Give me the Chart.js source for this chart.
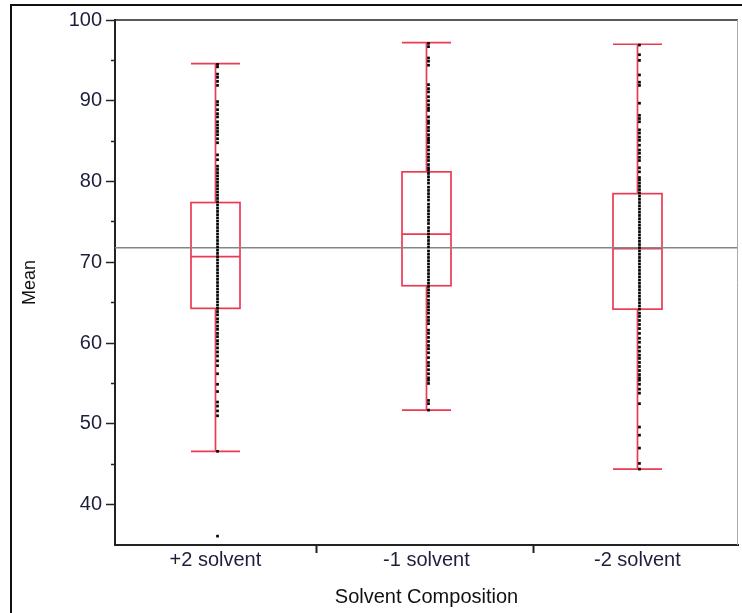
<!DOCTYPE html>
<html>
<head>
<meta charset="utf-8">
<script src="https://cdn.jsdelivr.net/npm/chart.js"></script>
<style>
  body { margin: 0; background: #fff; }
  #wrap { position: relative; width: 742px; height: 613px; }
  #frame { position: absolute; left: 10px; top: 4px; right: 0; bottom: 0;
           border-left: 2px solid #111; border-top: 2px solid #111; pointer-events: none; }
</style>
</head>
<body>
<div id="wrap">
  <canvas id="meanChart" width="742" height="613"></canvas>
  <div id="frame"></div>
</div>
<script>
  // categories and box summary
  const categories = ['+2 solvent', '-1 solvent', '-2 solvent'];
  const catPos = [1, 2, 3];
  const separators = [1.48, 2.51];
  const whiskerLow = [46.6, 51.7, 44.4];
  const q1 = [64.3, 67.1, 64.2];
  const median = [70.7, 73.5, 71.7];
  const q3 = [77.4, 81.2, 78.5];
  const whiskerHigh = [94.6, 97.2, 97.0];
  const grandMean = 71.8;
  const yTicks = [40, 45, 50, 55, 60, 65, 70, 75, 80, 85, 90, 95, 100];

  // individual observations
  const plus2Values = [94.5, 94.2, 93.3, 92.9, 92.4, 91.9, 89.9, 89.5, 88.9, 88.4, 88.0, 87.4, 87.0, 86.6,
    86.2, 85.8, 85.3, 84.8, 83.3, 82.7, 81.9, 81.5, 81.1, 80.7, 80.3, 79.9, 79.5, 79.1, 78.7, 78.3,
    77.9, 77.5, 77.1, 76.7, 76.3, 75.9, 75.5, 75.1, 74.7, 74.3, 73.9, 73.5, 73.1, 72.7, 72.3, 71.9,
    71.5, 71.1, 70.7, 70.3, 69.9, 69.5, 69.1, 68.7, 68.3, 67.9, 67.5, 67.1, 66.7, 66.3, 65.9, 65.5,
    65.1, 64.7, 64.3, 63.9, 63.5, 63.0, 62.6, 62.1, 61.7, 61.2, 60.8, 60.3, 59.9, 59.4, 58.9, 58.4,
    57.8, 57.2, 56.2, 54.9, 54.0, 52.7, 52.2, 51.6, 51.0, 46.6, 36.1];
  const minus1Values = [97.1, 96.7, 95.3, 94.9, 94.4, 92.0, 91.5, 91.1, 90.5, 90.0, 89.5, 89.1, 88.8, 88.0,
    87.5, 87.2, 86.7, 86.3, 85.8, 85.4, 85.1, 84.8, 84.3, 83.9, 83.4, 83.0, 82.6, 82.1, 81.7, 81.4,
    81.0, 80.6, 80.2, 79.8, 79.3, 78.9, 78.5, 78.1, 77.7, 77.2, 76.8, 76.4, 76.0, 75.6, 75.2, 74.8,
    74.3, 73.9, 73.5, 73.1, 72.7, 72.3, 71.9, 71.4, 71.0, 70.6, 70.2, 69.8, 69.4, 69.0, 68.6, 68.2,
    67.8, 67.4, 67.0, 66.6, 66.2, 65.8, 65.3, 64.9, 64.5, 64.1, 63.7, 63.2, 62.8, 62.4, 61.6, 61.2,
    60.7, 60.2, 59.7, 59.3, 58.8, 58.2, 57.6, 57.2, 56.7, 56.2, 55.7, 55.4, 55.0, 52.9, 52.5, 51.7];
  const minus2Values = [96.9, 95.7, 95.0, 93.2, 92.3, 91.9, 89.7, 88.2, 87.8, 87.4, 86.4, 86.0, 85.5, 85.1,
    84.5, 83.9, 83.5, 83.0, 82.6, 81.7, 81.2, 80.5, 80.2, 79.8, 79.4, 79.0, 78.6, 78.2, 77.8, 77.4,
    77.0, 76.6, 76.2, 75.8, 75.4, 75.0, 74.6, 74.2, 73.8, 73.4, 73.0, 72.6, 72.2, 71.8, 71.4, 71.0,
    70.6, 70.2, 69.8, 69.4, 69.0, 68.6, 68.2, 67.8, 67.4, 67.0, 66.6, 66.2, 65.8, 65.4, 65.0, 64.6,
    64.2, 63.7, 63.3, 62.8, 62.3, 61.8, 61.2, 60.6, 60.1, 59.5, 59.0, 58.5, 58.1, 57.6, 57.1, 56.6,
    56.1, 55.7, 55.4, 54.9, 54.3, 53.8, 52.5, 49.6, 48.6, 47.0, 45.1, 44.4];

  const xMin = 0.524, xMax = 3.477;
  const boxRed = '#ec3a55';
  const textColor = '#1e1e3c';

  const pointSets = [plus2Values, minus1Values, minus2Values].map((vals, i) => ({
    data: vals.map(v => ({ x: catPos[i] + 0.01, y: v })),
    pointStyle: 'rect',
    pointRadius: 1.9,
    backgroundColor: '#000',
    borderWidth: 0
  }));

  // box-and-whisker drawing through the chart scales
  const boxPlugin = {
    id: 'boxes',
    beforeDatasetsDraw(chart) {
      const { ctx, scales: { x, y } } = chart;
      const half = 24.5;
      ctx.save();
      ctx.strokeStyle = boxRed;
      ctx.lineWidth = 1.7;
      catPos.forEach((c, i) => {
        const cx = Math.round(x.getPixelForValue(c)) + 0.5;
        const yLo = y.getPixelForValue(whiskerLow[i]);
        const yHi = y.getPixelForValue(whiskerHigh[i]);
        const yQ1 = y.getPixelForValue(q1[i]);
        const yQ3 = y.getPixelForValue(q3[i]);
        const yMed = y.getPixelForValue(median[i]);
        ctx.beginPath();
        ctx.moveTo(cx, yHi); ctx.lineTo(cx, yQ3);
        ctx.moveTo(cx, yQ1); ctx.lineTo(cx, yLo);
        ctx.moveTo(cx - half, yHi); ctx.lineTo(cx + half, yHi);
        ctx.moveTo(cx - half, yLo); ctx.lineTo(cx + half, yLo);
        ctx.moveTo(cx - half, yMed); ctx.lineTo(cx + half, yMed);
        ctx.stroke();
        ctx.strokeRect(cx - half, yQ3, half * 2, yQ1 - yQ3);
      });
      ctx.restore();
    },
    afterDraw(chart) {
      const { ctx, chartArea: a } = chart;
      ctx.save();
      ctx.strokeStyle = '#222';
      ctx.lineWidth = 1.5;
      ctx.beginPath();
      ctx.moveTo(a.left, a.top); ctx.lineTo(a.right, a.top);
      ctx.stroke();
      ctx.strokeStyle = '#aaa';
      ctx.lineWidth = 1;
      ctx.beginPath();
      ctx.moveTo(a.right - 0.5, a.top); ctx.lineTo(a.right - 0.5, a.bottom);
      ctx.stroke();
      ctx.restore();
    }
  };

  new Chart(document.getElementById('meanChart'), {
    type: 'scatter',
    data: {
      datasets: [
        ...pointSets,
        {
          data: [{ x: xMin, y: grandMean }, { x: xMax, y: grandMean }],
          showLine: true,
          borderColor: '#858585',
          borderWidth: 1.4,
          pointRadius: 0
        }
      ]
    },
    options: {
      responsive: false,
      animation: false,
      events: [],
      layout: { padding: { left: 17, top: 20, right: 1, bottom: 0 } },
      plugins: { legend: { display: false }, tooltip: { enabled: false } },
      scales: {
        x: {
          type: 'linear',
          min: xMin,
          max: xMax,
          afterBuildTicks: s => { s.ticks = [...catPos, ...separators].sort((a, b) => a - b).map(v => ({ value: v })); },
          afterFit: s => { s.height = 68; },
          ticks: {
            autoSkip: false,
            maxRotation: 0,
            padding: -5,
            color: textColor,
            font: { family: 'Liberation Sans', size: 20 },
            callback: v => { const i = catPos.indexOf(v); return i >= 0 ? categories[i] : ''; }
          },
          grid: {
            drawOnChartArea: false,
            tickLength: 8,
            tickWidth: 2,
            tickColor: c => (c.tick && catPos.includes(c.tick.value)) ? 'rgba(0,0,0,0)' : '#222'
          },
          border: { color: '#222', width: 2 },
          title: {
            display: true,
            text: 'Solvent Composition',
            color: '#111',
            font: { family: 'Liberation Sans', size: 20 },
            padding: { top: 0, bottom: 4 }
          }
        },
        y: {
          min: 35,
          max: 100,
          afterBuildTicks: s => { s.ticks = yTicks.map(v => ({ value: v })); },
          afterFit: s => { s.width = 98; },
          ticks: {
            autoSkip: false,
            padding: 4,
            color: textColor,
            font: { family: 'Liberation Sans', size: 20 },
            callback: v => (v % 10 === 0 ? v : '')
          },
          grid: {
            drawOnChartArea: false,
            tickLength: 9,
            tickWidth: 1.5,
            tickColor: '#222',
            tickBorderDash: c => (c.tick && c.tick.value % 10 !== 0) ? [0, 5, 4] : []
          },
          border: { color: '#222', width: 2 },
          title: {
            display: true,
            text: 'Mean',
            color: '#111',
            font: { family: 'Liberation Sans', size: 18 },
            padding: { top: 2, bottom: 2 }
          }
        }
      }
    },
    plugins: [boxPlugin]
  });
</script>
</body>
</html>
